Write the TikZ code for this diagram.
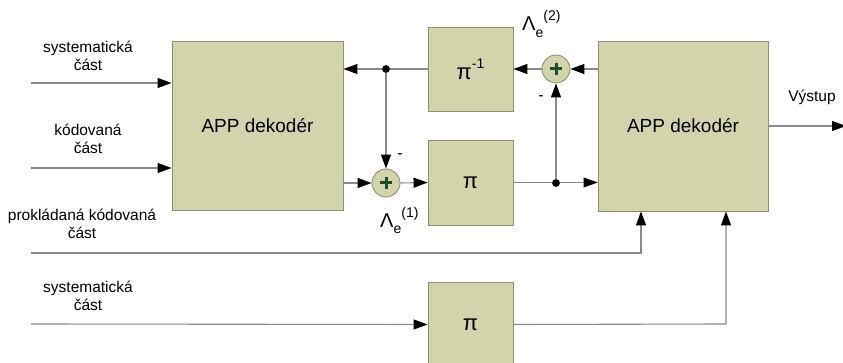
\documentclass[tikz,border=0pt]{standalone}
\usepackage{fontspec}
\setmainfont{Liberation Sans}
\usetikzlibrary{arrows.meta}
\definecolor{boxfill}{HTML}{D3D3AC}
\definecolor{boxline}{HTML}{8F9075}
\definecolor{wire}{HTML}{8A8A8A}
\definecolor{plusgreen}{HTML}{1B4D2B}
\tikzset{
  blk/.style={draw=boxline, fill=boxfill, line width=0.9pt, inner sep=0pt},
  adder/.style={circle, draw=boxline, fill=boxfill, line width=0.9pt, minimum size=28pt, inner sep=0pt},
  junc/.style={circle, fill=black, minimum size=7.5pt, inner sep=0pt},
  wirel/.style={draw=wire, line width=1.1pt},
  arr/.style={wirel, -{Triangle[length=14pt,width=10pt,black]}},
  lbl/.style={font=\fontsize{15.5pt}{18pt}\selectfont, align=center, inner sep=0pt},
  big/.style={font=\fontsize{19pt}{22pt}\selectfont},
  pil/.style={font=\fontsize{22pt}{24pt}\selectfont},
  sgn/.style={font=\fontsize{16pt}{18pt}\selectfont, inner sep=0pt},
}
\newcommand{\plusmark}[1]{%
  \draw[plusgreen, line width=3pt] ([xshift=-6pt]#1.center) -- ([xshift=6pt]#1.center);
  \draw[plusgreen, line width=3pt] ([yshift=-6pt]#1.center) -- ([yshift=6pt]#1.center);}
\begin{document}
\begin{tikzpicture}[x=1pt,y=-1pt]
\clip (0,0) rectangle (843,363);
\fill[white] (0,0) rectangle (843,363);
% blocks
\node[blk, minimum width=171pt, minimum height=169pt, big] (dec1) at (257.5,125.5) {APP dekodér};
\node[blk, minimum width=170pt, minimum height=170pt, big] (dec2) at (683,126) {APP dekodér};
\node[blk, minimum width=85pt, minimum height=84pt, pil] (pinv) at (470.5,69) {π\raisebox{0.5em}{\fontsize{14pt}{15pt}\selectfont -1}};
\node[blk, minimum width=85pt, minimum height=85pt, pil] (pia) at (470.5,182.5) {π};
\node[blk, minimum width=85pt, minimum height=85pt, pil] (pib) at (470.5,324.5) {π};
% adders
\node[adder] (add1) at (556,69) {};
\node[adder] (add2) at (386,183) {};
\plusmark{add1}
\plusmark{add2}
% junctions
\node[junc] (j1) at (386,69) {};
\node[junc] (j2) at (556,183) {};
% input coordinates
\coordinate (in1) at (31,83);
\coordinate (in2) at (31,168);
\coordinate (in3) at (31,253);
\coordinate (in4) at (31,324);
\coordinate (c3) at (641,253);
\coordinate (c4) at (726,324);
\coordinate (outc) at (846,126);
% connectors
\draw[arr] (add1 -| dec2.west) -- (add1.east);
\draw[arr] (add1.west) -- (pinv.east);
\draw[wirel] (pinv.west) -- (j1.center);
\draw[arr] (j1.center) -- (pinv -| dec1.east);
\draw[arr] (j1.center) -- (add2.north);
\draw[arr] (add2 -| dec1.east) -- (add2.west);
\draw[arr] (add2.east) -- (pia.west);
\draw[arr] (pia.east) -- (pia -| dec2.west);
\draw[arr] (j2.center) -- (add1.south);
\draw[arr] (in1) -- (in1 -| dec1.west);
\draw[arr] (in2) -- (in2 -| dec1.west);
\draw[arr] (in3) -- (c3) -- (c3 |- dec2.south);
\draw[arr] (in4) -- (pib.west);
\draw[arr] (pib.east) -- (c4) -- (c4 |- dec2.south);
\draw[arr] (outc -| dec2.east) -- (outc);
\node[junc] at (j1) {};
\node[junc] at (j2) {};
% labels
\node[lbl] (t1) at (88,56) {systematická\\část};
\node[lbl] (t2) at (88,139) {kódovaná\\část};
\node[lbl] (t3) at (82,224) {prokládaná kódovaná\\část};
\node[lbl] (t4) at (88,296) {systematická\\část};
\node[lbl] (t5) at (812,97) {Výstup};
\node[sgn] (m1) at (400,156) {-};
\node[sgn] (m2) at (541,98) {-};
\node[inner sep=0pt, anchor=west] (lam2) at (522,24) {\fontsize{20pt}{22pt}\selectfont Λ\raisebox{-0.3em}{\fontsize{14pt}{16pt}\selectfont e}\raisebox{0.5em}{\fontsize{14pt}{16pt}\selectfont (2)}};
\node[inner sep=0pt, anchor=west] (lam1) at (380,220) {\fontsize{20pt}{22pt}\selectfont Λ\raisebox{-0.3em}{\fontsize{14pt}{16pt}\selectfont e}\raisebox{0.5em}{\fontsize{14pt}{16pt}\selectfont (1)}};
\end{tikzpicture}
\end{document}
